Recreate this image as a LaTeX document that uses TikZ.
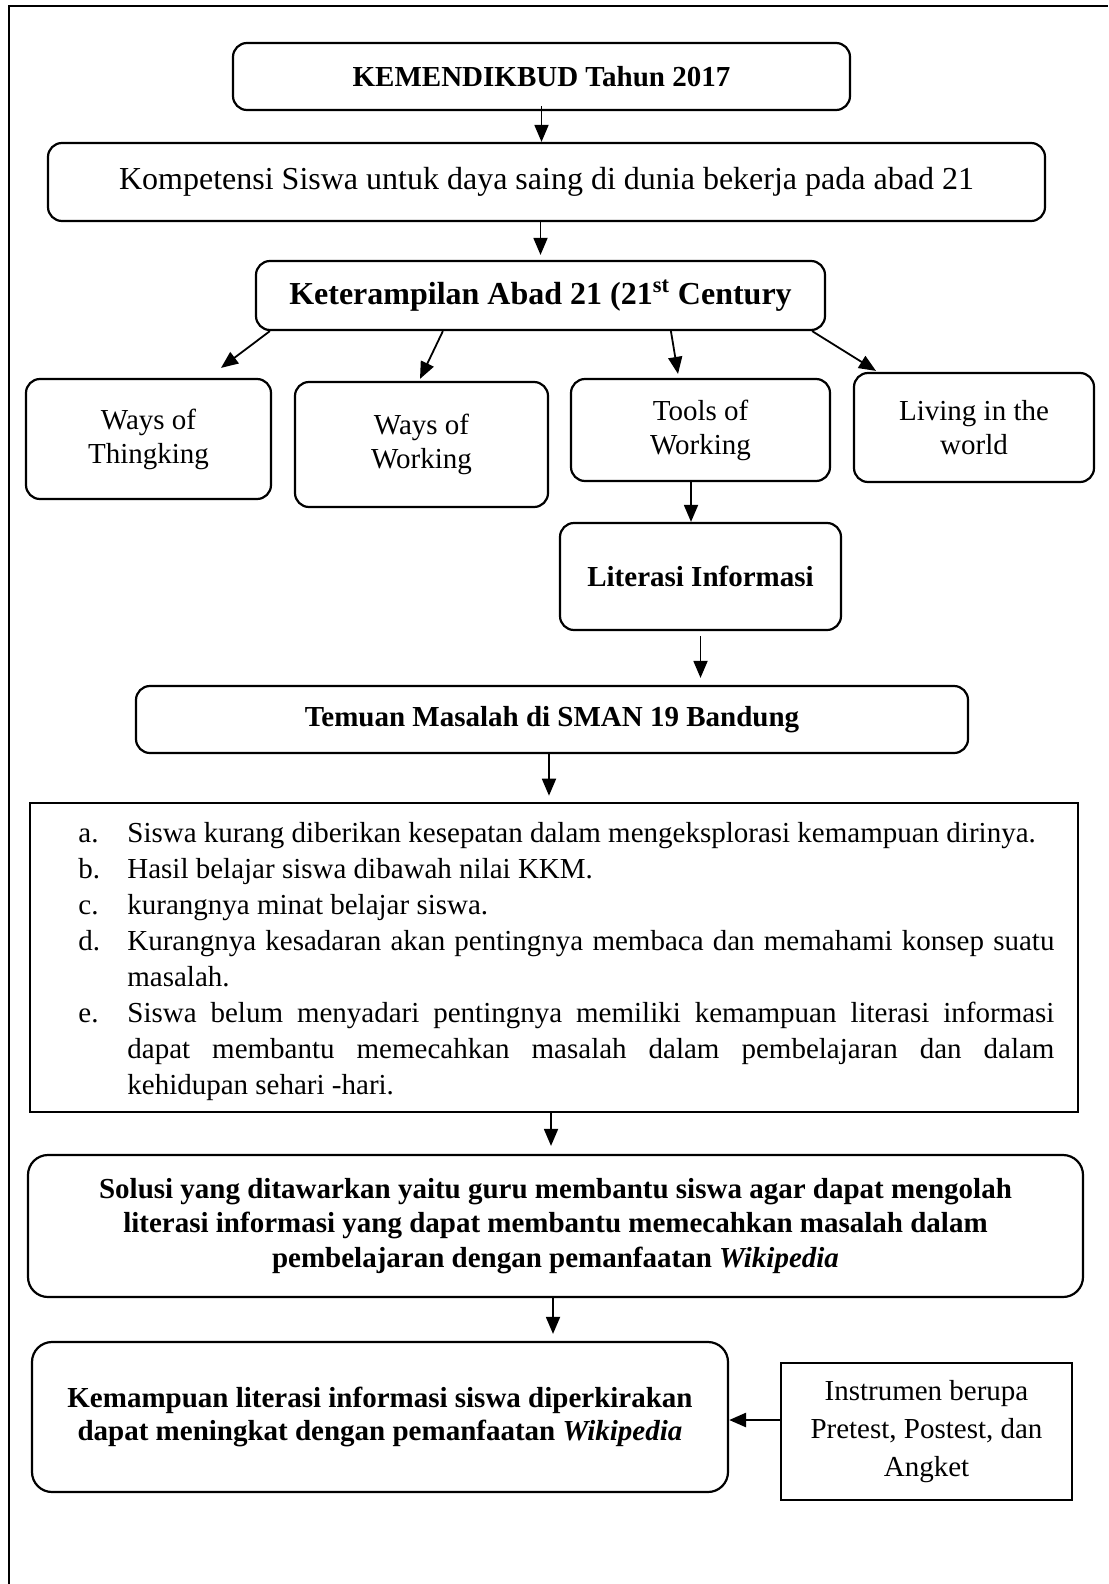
\documentclass[tikz,border=0pt]{standalone}
\usepackage{fontspec}
\setmainfont{Liberation Serif}
\usetikzlibrary{arrows.meta,calc}
\newcommand{\itemlbl}[1]{\leavevmode\llap{\makebox[24.5pt][l]{#1}}}
\begin{document}
\begin{tikzpicture}[x=0.5pt,y=-0.5pt,
  rbox/.style={draw,line width=1.1pt,rounded corners=7pt,align=center,inner sep=0pt},
  sbox/.style={draw,line width=1.3pt,inner sep=0pt,align=center},
  arr/.style={-{Triangle[length=8.5pt,width=7pt]},line width=0.9pt},
  fa/.style={font=\fontsize{14.5pt}{17pt}\selectfont},
  fb/.style={font=\fontsize{16pt}{19pt}\selectfont},
  ba/.style={font=\bfseries\fontsize{14.5pt}{17pt}\selectfont},
  bb/.style={font=\bfseries\fontsize{16pt}{19pt}\selectfont},
]
\useasboundingbox (0,0) rectangle (1108,1584);
\draw[line width=1pt] (9,1584) -- (9,6) -- (1108,6);

\node[rbox,minimum width=308.5pt,minimum height=33.5pt,ba] (kd) at (541.5,76.5) {KEMENDIKBUD Tahun 2017};
\node[rbox,minimum width=498.5pt,minimum height=39pt,fb] (komp) at (546.5,182) {Kompetensi Siswa untuk daya saing di dunia bekerja pada abad 21};
\node[rbox,minimum width=284.5pt,minimum height=34.5pt,bb] (ket) at (540.5,295.5) {Keterampilan Abad 21 (21\textsuperscript{st} Century};
\node[rbox,minimum width=122.5pt,minimum height=60pt,fa] (wt) at (148.5,439) {Ways of\\Thingking};
\node[rbox,minimum width=126.5pt,minimum height=62.5pt,fa] (ww) at (421.5,444.5) {Ways of\\Working};
\node[rbox,minimum width=129.5pt,minimum height=51pt,fa] (tw) at (700.5,430) {Tools of\\Working};
\node[rbox,minimum width=120pt,minimum height=54.5pt,fa] (lw) at (974,427.5) {Living in the\\world};
\node[rbox,minimum width=140.5pt,minimum height=53.5pt,ba] (lit) at (700.5,576.5) {Literasi Informasi};
\node[rbox,minimum width=416pt,minimum height=33.5pt,ba] (tem) at (552,719.5) {Temuan Masalah di SMAN 19 Bandung};

\node[sbox,minimum width=524pt,minimum height=154.5pt] (lst) at (554,957.5) {};
\node[anchor=north west,inner sep=0pt,text width=463.5pt,align=justify,
      font=\fontsize{14.5pt}{18pt}\selectfont] (lsttxt) at (127,822) {%
\tolerance=9999\hbadness=10000\parindent=0pt
\itemlbl{a.}Siswa kurang diberikan kesepatan dalam mengeksplorasi kemampuan dirinya.\par
\itemlbl{b.}Hasil belajar siswa dibawah nilai KKM.\par
\itemlbl{c.}kurangnya minat belajar siswa.\par
\itemlbl{d.}Kurangnya kesadaran akan pentingnya membaca dan memahami konsep suatu\linebreak masalah.\par
\itemlbl{e.}Siswa belum menyadari pentingnya memiliki kemampuan literasi informasi\linebreak dapat membantu memecahkan masalah dalam pembelajaran dan dalam\linebreak kehidupan sehari -hari.\par};

\node[rbox,rounded corners=10pt,minimum width=527.5pt,minimum height=71pt,
      font=\bfseries\fontsize{14.5pt}{17.25pt}\selectfont] (sol) at (555.5,1226)
 {Solusi yang ditawarkan yaitu guru membantu siswa agar dapat mengolah\\literasi informasi yang dapat membantu memecahkan masalah dalam\\pembelajaran dengan pemanfaatan \textit{Wikipedia}};
\node[rbox,rounded corners=10pt,minimum width=348pt,minimum height=75pt,
      font=\bfseries\fontsize{14.5pt}{16.5pt}\selectfont] (kem) at (380,1417)
 {Kemampuan literasi informasi siswa diperkirakan\\dapat meningkat dengan pemanfaatan \textit{Wikipedia}};
\node[sbox,minimum width=145.5pt,minimum height=68.5pt,
      font=\fontsize{14.5pt}{19pt}\selectfont] (inst) at (926.5,1431.5)
 {Instrumen berupa\\Pretest, Postest, dan\\Angket};

% connectors
\draw[arr] ($(kd.south)+(0,-5)$) -- (kd.south |- komp.north);
\draw[arr] (komp.south -| ket.north) -- ($(ket.north)+(0,-5)$);
\draw[arr] ($(ket.south west)+(15,0)$) -- ($(wt.north)+(72.5,-10)$);
\draw[arr] ($(ket.south west)+(188,0)$) -- ($(ww.north)+(-1.5,-2)$);
\draw[arr] ($(ket.south west)+(416,0)$) -- ($(tw.north)+(-22.5,-4)$);
\draw[arr] ($(ket.south east)+(-14,0)$) -- ($(lw.north)+(-98,-1)$);
\draw[arr] ($(tw.south)+(-9.5,0)$) -- ($(lit.north)+(-9.5,0)$);
\draw[arr] ($(lit.south)+(0,5)$) -- ($(lit.south |- tem.north)+(0,-7)$);
\draw[arr] ($(tem.south)+(-3,0)$) -- ($(tem.south |- lst.north)+(-3,-6)$);
\draw[arr] ($(lst.south)+(-3,0)$) -- ($(lst.south |- sol.north)+(-3,-8)$);
\draw[arr] ($(sol.south)+(-2.5,0)$) -- ($(sol.south |- kem.north)+(-2.5,-7)$);
\draw[arr,line width=1.3pt] ($(inst.west)+(0,-11.5)$) -- ($(kem.east |- inst.west)+(0,-11.5)$);
\end{tikzpicture}
\end{document}
